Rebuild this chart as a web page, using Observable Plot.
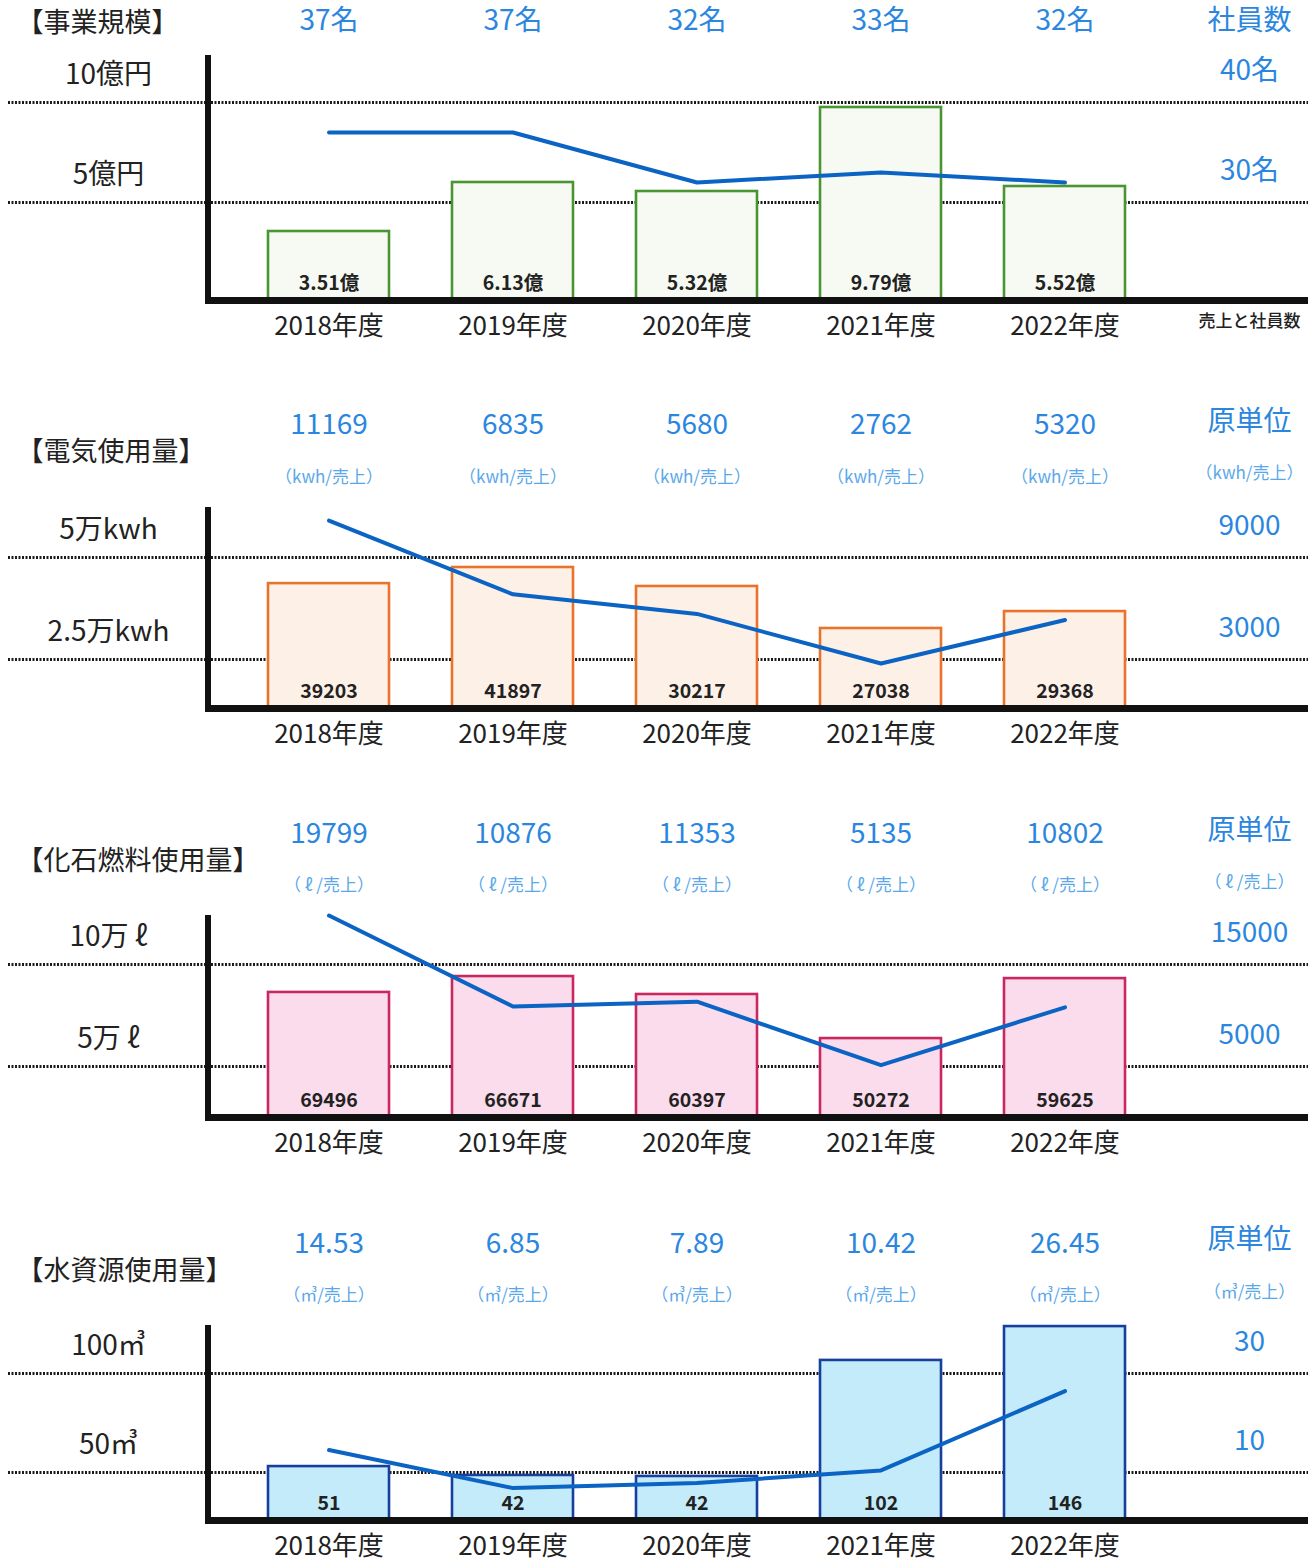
<!DOCTYPE html>
<html><head><meta charset="utf-8">
<script src="https://cdn.jsdelivr.net/npm/d3@7"></script>
<script src="https://cdn.jsdelivr.net/npm/@observablehq/plot@0.6"></script>
<style>body{margin:0;background:#fff} #chart svg{display:block}</style>
</head><body><div id="chart"></div><script>
const years = ["2018年度","2019年度","2020年度","2021年度","2022年度"];

// 事業規模
const salesLabels = ["3.51億","6.13億","5.32億","9.79億","5.52億"];
const salesBarHeights = [3.55, 6.0, 5.55, 9.75, 5.8];       // 億円, as drawn
const staffCount = [37, 37, 32, 33, 32];
const salesLeftTicks = [10, 5], salesLeftLabels = ["10億円","5億円"];
const staffRightTicks = [40, 30], staffRightLabels = ["40名","30名"];

// 電気使用量
const elecUsage = [39203, 41897, 30217, 27038, 29368];
const elecBarHeights = [43600, 47550, 42900, 32600, 36750];
const elecIntensity = [11169, 6835, 5680, 2762, 5320];
const elecLeftTicks = [50000, 25000], elecLeftLabels = ["5万kwh","2.5万kwh"];
const elecRightTicks = [9000, 3000], elecRightLabels = ["9000","3000"];

// 化石燃料使用量
const fuelUsage = [69496, 66671, 60397, 50272, 59625];
const fuelBarHeights = [86300, 94100, 85300, 63700, 93100];
const fuelIntensity = [19799, 10876, 11353, 5135, 10802];
const fuelLeftTicks = [100000, 50000], fuelLeftLabels = ["10万 ℓ","5万 ℓ"];
const fuelRightTicks = [15000, 5000], fuelRightLabels = ["15000","5000"];

// 水資源使用量
const waterUsage = [51, 42, 42, 102, 146];
const waterBarHeights = [53, 48.5, 48, 106.6, 123.7];
const waterIntensity = [14.53, 6.85, 7.89, 10.42, 26.45];
const waterLeftTicks = [100, 50], waterLeftLabels = ["100㎥","50㎥"];
const waterRightTicks = [30, 10], waterRightLabels = ["30","10"];

const BLUE = "#2b86e0", LIGHTBLUE = "#5aa8ea", LINE = "#0b63c4", DARK = "#222";
const FONT = "'Noto Sans CJK JP', 'Noto Sans', sans-serif";

function panel(c) {
  const pxToVal = d3.scaleLinear().domain(c.gridPx).range(c.leftTicks);
  const floor = pxToVal(c.baselinePx);
  const axisTop = pxToVal(c.axisTopPx);
  const toLeft = d3.scaleLinear().domain(c.rightTicks).range(c.leftTicks);
  const rows = years.map((yr, i) => ({
    year: yr, h: c.barHeights[i], label: c.barLabels[i],
    line: toLeft(c.intensity[i]), top: c.topLabels[i]
  }));
  const ticks = c.leftTicks.map((v, i) => ({v, left: c.leftLabels[i], right: c.rightLabels[i]}));
  const marks = [
    Plot.ruleY(c.leftTicks, {stroke: "#1a1a1a", strokeWidth: 3, strokeDasharray: "2,1.5"}),
    Plot.rect([0], {y1: floor, y2: axisTop, fill: "#111", insetLeft: 197, insetRight: 1097}),
    Plot.barY(rows, {x: "year", y1: floor, y2: "h", fill: c.fill, stroke: c.stroke, strokeWidth: 2.6}),
    Plot.ruleY([floor], {stroke: "#111", strokeWidth: 7, insetLeft: 197}),
    Plot.line(rows, {x: "year", y: "line", stroke: LINE, strokeWidth: 4, strokeLinejoin: "round"}),
    Plot.text(rows, {x: "year", y: floor, text: "label", dy: -17, fontSize: 19.5, fontWeight: "bold", fill: DARK}),
    Plot.text(rows, {x: "year", y: floor, text: "year", dy: 26, fontSize: 26, fill: DARK}),
    Plot.text(rows, {x: "year", text: "top", frameAnchor: "top", lineAnchor: "middle", dy: c.topDy, fontSize: 28, fill: BLUE}),
    Plot.text(ticks, {y: "v", text: "left", frameAnchor: "left", textAnchor: "middle", dx: 100, dy: -27, fontSize: 28, fill: DARK}),
    Plot.text(ticks, {y: "v", text: "right", frameAnchor: "right", textAnchor: "middle", dx: -59, dy: -31, fontSize: 28, fill: BLUE}),
    Plot.text([c.title], {frameAnchor: "top-left", lineAnchor: "middle", textAnchor: "start", dx: 8, dy: c.titleDy, fontSize: 27, fill: DARK}),
    Plot.text([c.header], {frameAnchor: "top-right", lineAnchor: "middle", textAnchor: "middle", dx: -59, dy: c.headerDy, fontSize: 28, fill: BLUE})
  ];
  if (c.subLabel) {
    marks.push(Plot.text(rows, {x: "year", text: () => c.subLabel, frameAnchor: "top", lineAnchor: "middle", dy: c.subDy, fontSize: 17, fill: LIGHTBLUE}));
    marks.push(Plot.text([c.subLabel], {frameAnchor: "top-right", lineAnchor: "middle", textAnchor: "middle", dx: -59, dy: c.subHeaderDy, fontSize: 17, fill: LIGHTBLUE}));
  }
  if (c.footer) {
    marks.push(Plot.text([c.footer], {y: floor, frameAnchor: "right", textAnchor: "middle", dx: -59, dy: 21, fontSize: 17, fontWeight: 500, fill: DARK}));
  }
  return Plot.plot({
    width: 1314, height: c.height,
    marginTop: 0, marginBottom: 0, marginLeft: 8, marginRight: 6,
    x: {domain: years, range: [204.2, 1188.5], padding: 0.34, axis: null},
    y: {domain: c.leftTicks, range: c.gridPx.map(p => p - c.top), axis: null},
    style: {fontFamily: FONT, background: "#fff", overflow: "visible"},
    marks
  });
}

const panels = [
  {top: 0, height: 370, gridPx: [102, 202], baselinePx: 300, axisTopPx: 55,
   leftTicks: salesLeftTicks, leftLabels: salesLeftLabels, rightTicks: staffRightTicks, rightLabels: staffRightLabels,
   barHeights: salesBarHeights, barLabels: salesLabels, intensity: staffCount,
   topLabels: staffCount.map(d => d + "名"), title: "【事業規模】", header: "社員数",
   fill: "#f6faf3", stroke: "#4a9432", topDy: 21, titleDy: 23, headerDy: 21, footer: "売上と社員数"},
  {top: 370, height: 410, gridPx: [557, 659], baselinePx: 708, axisTopPx: 507,
   leftTicks: elecLeftTicks, leftLabels: elecLeftLabels, rightTicks: elecRightTicks, rightLabels: elecRightLabels,
   barHeights: elecBarHeights, barLabels: elecUsage.map(String), intensity: elecIntensity,
   topLabels: elecIntensity.map(String), title: "【電気使用量】", header: "原単位", subLabel: "（kwh/売上）",
   fill: "#fdf0e7", stroke: "#e8742c", topDy: 55, subDy: 107, titleDy: 82, headerDy: 52, subHeaderDy: 103},
  {top: 780, height: 410, gridPx: [964, 1066], baselinePx: 1117, axisTopPx: 915,
   leftTicks: fuelLeftTicks, leftLabels: fuelLeftLabels, rightTicks: fuelRightTicks, rightLabels: fuelRightLabels,
   barHeights: fuelBarHeights, barLabels: fuelUsage.map(String), intensity: fuelIntensity,
   topLabels: fuelIntensity.map(String), title: "【化石燃料使用量】", header: "原単位", subLabel: "（ ℓ /売上）",
   fill: "#fbdcec", stroke: "#c8285f", topDy: 54, subDy: 105, titleDy: 81, headerDy: 51, subHeaderDy: 102},
  {top: 1190, height: 370, gridPx: [1373, 1472], baselinePx: 1520, axisTopPx: 1325,
   leftTicks: waterLeftTicks, leftLabels: waterLeftLabels, rightTicks: waterRightTicks, rightLabels: waterRightLabels,
   barHeights: waterBarHeights, barLabels: waterUsage.map(String), intensity: waterIntensity,
   topLabels: waterIntensity.map(d => d.toFixed(2)), title: "【水資源使用量】", header: "原単位", subLabel: "（㎥/売上）",
   fill: "#c4ebfa", stroke: "#173f9e", topDy: 54, subDy: 105, titleDy: 81, headerDy: 50, subHeaderDy: 102}
];

const root = document.getElementById("chart");
for (const p of panels) root.appendChild(panel(p));
</script></body></html>
